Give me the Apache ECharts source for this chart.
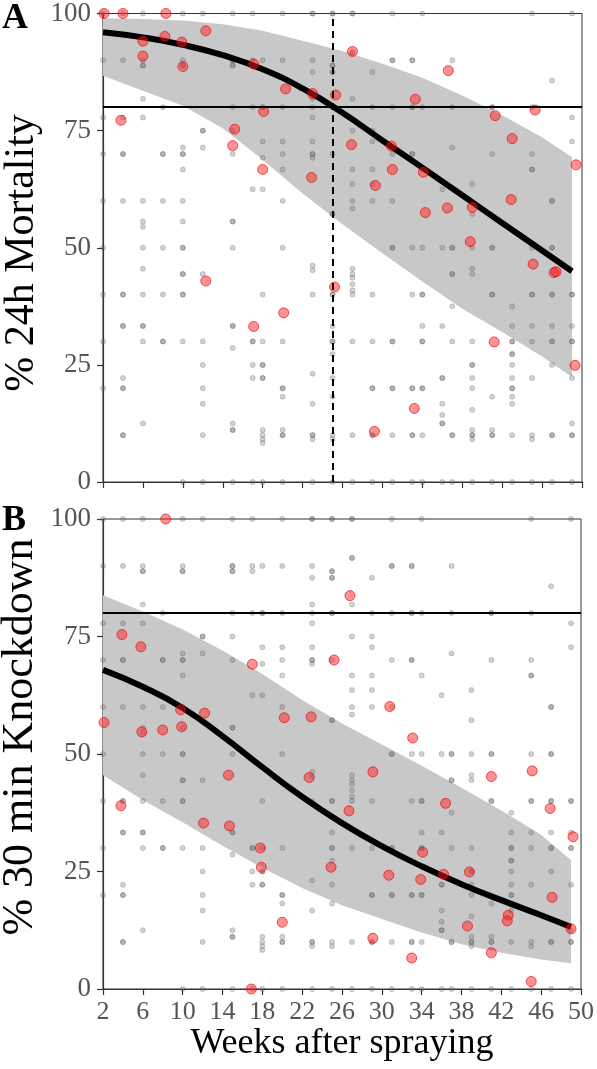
<!DOCTYPE html>
<html>
<head>
<meta charset="utf-8">
<script src="https://cdn.jsdelivr.net/npm/echarts@6/dist/echarts.min.js"></script>
<style>
  html, body { margin: 0; padding: 0; background: #fff; }
  #chart { width: 597px; height: 1069px; }
</style>
</head>
<body>
<div id="chart"></div>
<script>
// 灰色小点：按周排列的全部观测值
const grayWeeks = [2, 4, 6, 8, 10, 12, 15, 17, 18, 20, 23, 25, 27, 29, 31, 33, 34, 36, 37, 39, 41, 43, 45, 47, 49];
const grayValues = [
  [100, 90, 77.8, 70, 60, 50, 40, 30, 20],
  [100, 90, 77.8, 70, 70, 60, 40, 40, 33.3, 33.3, 22.2, 20, 20, 10, 10],
  [100, 90, 88.9, 88.9, 81.8, 77.8, 60, 55.6, 54.5, 50, 45.5, 40, 33.3, 33.3, 30, 12.5],
  [80, 70, 70, 60, 50, 40, 30, 30],
  [100, 90, 88.9, 88.9, 71.4, 70, 70, 66.7, 60, 55.6, 50, 50, 44.4, 44.4, 40, 40, 30, 0],
  [100, 75, 75, 71.4, 44.4, 30, 25, 20, 16.7, 10, 0],
  [100, 90, 90, 88.9, 88.9, 80, 75, 70, 55.6, 55.6, 50, 33.3, 33.3, 28.6, 12.5, 11.1, 11.1, 0],
  [100, 90, 88.9, 80, 62.5, 30, 30, 25, 22.2, 0],
  [90, 80, 80, 72.7, 69.2, 62.5, 40, 30, 25, 25, 22.2, 22.2, 11.1, 10, 9.1, 8.3, 0],
  [100, 90, 80, 72.7, 70, 66.7, 60, 50, 30, 20, 20, 18.2, 11.1, 10, 10, 0],
  [100, 100, 90, 87.5, 81.8, 80, 77.8, 72.7, 70, 70, 69.2, 46.2, 45.2, 40, 23.1, 16.7, 10, 10, 9.1, 0],
  [100, 100, 88.9, 88.9, 87.5, 87.5, 80, 80, 70, 57.2, 57.2, 40, 40, 33.3, 30, 30, 27.3, 22.2, 18.2, 10, 9.1, 0],
  [100, 100, 91.7, 91.7, 81.8, 75, 66.7, 63.6, 60, 58.4, 45.5, 44.4, 43.6, 42.2, 40.9, 40, 30, 10, 0],
  [87.5, 80, 75, 72.7, 66.7, 63.6, 60, 40, 30, 20, 20, 10, 10, 0],
  [100, 90, 90, 80, 70, 60, 50, 50, 30, 30, 20, 20, 10, 0],
  [90, 90, 80, 80, 70, 70, 50, 40, 20, 20, 10, 10, 0],
  [100, 80, 66.7, 50, 40, 40, 33.3, 30, 30, 20, 20, 10, 0],
  [62.5, 50, 33.3, 22.2, 22.2, 16.7, 14.3, 12.5, 12.5, 0],
  [90, 80, 71.4, 50, 50, 44.4, 44.4, 37.5, 30, 10, 10, 0],
  [63.6, 57.2, 50, 45.5, 44.4, 30, 25, 25, 22.2, 20, 15.4, 11.1, 10, 10, 9.1, 0],
  [80, 80, 70, 50, 50, 40, 40, 18.2, 11.1, 10, 10, 0],
  [37.5, 33.3, 30, 30, 27.3, 27.3, 25, 22.2, 20, 20, 18.2, 16.7, 10, 0],
  [100, 80, 70, 66.7, 66.7, 50, 40, 40, 33.3, 30, 22.2, 10, 9.1, 0],
  [85.7, 60, 60, 50, 50, 40, 40, 33.3, 30, 30, 25, 10, 10, 0],
  [100, 77.8, 72.7, 40, 40, 33.3, 30, 30, 22.2, 12.5, 10, 10, 0]
];

// 红色大点 A：24h 死亡率
const redAx = [2.1, 4, 8.3, 6, 6, 8.2, 9.9, 10, 12.3, 3.8, 17.1, 20.3, 18.1, 15.2, 15, 18, 23, 25.3, 27, 36.6, 33.3, 41.3, 45.3, 43, 49.4, 26.9, 30.9, 22.9, 31, 34.1, 29.3, 34.3, 36.5, 39, 42.9, 38.8, 45.1, 47.2, 47.4, 25.2, 41.2, 49.3, 33.2, 29.2, 12.3, 17.1, 20.1];
const redAy = [100, 100, 100, 94.1, 90.9, 95.1, 93.9, 88.7, 96.3, 77.2, 89.2, 83.9, 79.1, 75.3, 71.8, 66.7, 82.9, 82.6, 91.9, 87.8, 81.7, 78.2, 79.4, 73.3, 67.7, 72, 71.7, 65, 66.7, 66.1, 63.3, 57.5, 58.5, 58.6, 60.3, 51.3, 46.5, 44.7, 44.9, 41.6, 29.9, 24.9, 15.7, 10.8, 42.9, 33.2, 36.1];

// 红色大点 B：30min 击倒率
const redBx = [8.3, 3.9, 5.8, 2.1, 5.9, 8, 9.8, 9.9, 12.2, 17, 20.2, 14.6, 3.8, 12.1, 14.7, 17.8, 17.9, 20, 16.9, 26.8, 25.2, 22.9, 30.8, 33.1, 22.7, 29.1, 41, 45.1, 36.4, 26.7, 46.9, 49.2, 34.1, 24.9, 30.7, 33.9, 36.2, 38.8, 47.1, 42.7, 42.6, 38.6, 49, 29.1, 41, 33, 45];
const redBy = [100, 75.4, 72.8, 56.7, 54.7, 55.1, 59.4, 55.8, 58.7, 69.1, 57.7, 45.5, 39, 35.3, 34.7, 30, 25.9, 14.2, 0, 83.7, 70, 57.9, 60.1, 53.4, 45, 46.2, 45.2, 46.4, 39.5, 37.9, 38.4, 32.4, 29.1, 25.9, 24.2, 23.3, 24.4, 24.9, 19.5, 15.7, 14.5, 13.4, 12.8, 10.8, 7.7, 6.6, 1.6];

// 拟合曲线与置信带
const fitWeeks = [2, 6, 10, 14, 18, 22, 26, 30, 34, 38, 42, 46, 49];
const fitA = [96.0, 94.9, 93.3, 91.1, 88.1, 84.0, 78.8, 72.9, 67.1, 61.2, 55.3, 49.4, 45.0];
const bandAHigh = [99.0, 98.8, 98.5, 97.7, 96.3, 94.2, 92.0, 89.3, 86.3, 82.5, 78.3, 73.6, 69.3];
const bandALow = [86.7, 83.5, 80.3, 75.5, 68.8, 61.6, 55.0, 48.8, 42.8, 37.0, 32.0, 26.8, 22.4];
const fitB = [67.9, 64.3, 59.8, 53.8, 47.2, 40.9, 35.3, 30.4, 26.1, 22.3, 18.9, 15.7, 13.2];
const bandBHigh = [83.8, 80.3, 76.5, 72.0, 67.0, 61.5, 56.5, 52.0, 47.5, 42.8, 38.0, 32.8, 27.4];
const bandBLow = [45.5, 40.2, 35.5, 30.5, 25.8, 21.5, 17.8, 14.9, 12.0, 9.5, 7.7, 6.3, 5.5];

const yTicks = [0, 25, 50, 75, 100];
const threshold = 80;
const lt80Week = 25;

const chart = echarts.init(document.getElementById('chart'), null, { renderer: 'canvas' });

const serif = 'Liberation Serif';
const grayData = [];
grayWeeks.forEach((w, i) => grayValues[i].forEach(v => grayData.push([w, v])));
const zip = (xs, ys) => xs.map((x, i) => [x, ys[i]]);

function xAxisOf(gridIndex, showLabel) {
  return {
    type: 'value', gridIndex: gridIndex, min: 2, max: 50, interval: 4,
    axisLine: { show: true, onZero: false, lineStyle: { color: '#333', width: 1.2 } },
    axisTick: { show: true, length: 6, lineStyle: { color: '#333', width: 1.2 } },
    axisLabel: { show: showLabel, margin: 10, fontSize: 26, color: '#555', fontFamily: serif },
    splitLine: { show: false }
  };
}
function yAxisOf(gridIndex) {
  return {
    type: 'value', gridIndex: gridIndex, min: 0, max: 100, interval: 25,
    axisLine: { show: true, lineStyle: { color: '#333', width: 1.2 } },
    axisTick: { show: true, length: 6, lineStyle: { color: '#333', width: 1.2 } },
    axisLabel: { margin: 12, fontSize: 27, color: '#555', fontFamily: serif,
      formatter: v => (yTicks.indexOf(v) >= 0 ? String(v) : '') },
    splitLine: { show: false }
  };
}

// 置信带：上界正向、下界反向连成多边形
function bandSeries(idx, low, high) {
  return {
    type: 'custom', xAxisIndex: idx, yAxisIndex: idx, silent: true, z: 1,
    data: [[fitWeeks[0], low[0]]],
    renderItem: function (params, api) {
      const pts = [];
      fitWeeks.forEach((w, i) => pts.push(api.coord([w, high[i]])));
      for (let i = fitWeeks.length - 1; i >= 0; i--) pts.push(api.coord([fitWeeks[i], low[i]]));
      return { type: 'polygon', shape: { points: pts }, style: { fill: '#c8c8c8', stroke: null } };
    }
  };
}

// 面板系列：置信带、灰点、曲线、红点
function panelSeries(idx, low, high, fit, redX, redY, marks) {
  return [
    bandSeries(idx, low, high),
    {
      type: 'scatter', xAxisIndex: idx, yAxisIndex: idx, data: grayData,
      symbolSize: 5, clip: false,
      itemStyle: { color: 'rgba(110,110,110,0.38)', borderColor: 'rgba(80,80,80,0.4)', borderWidth: 0.8 },
      z: 2
    },
    {
      type: 'line', xAxisIndex: idx, yAxisIndex: idx, data: zip(fitWeeks, fit),
      symbol: 'none', smooth: 0.5, lineStyle: { color: '#000', width: 6 }, z: 3,
      markLine: { silent: true, symbol: 'none', label: { show: false }, data: marks }
    },
    {
      type: 'scatter', xAxisIndex: idx, yAxisIndex: idx, data: zip(redX, redY),
      symbolSize: 10, clip: false,
      itemStyle: { color: 'rgba(255,30,30,0.6)', borderColor: 'rgba(235,0,0,0.8)', borderWidth: 1 },
      z: 4
    }
  ];
}

const option = {
  animation: false,
  backgroundColor: '#fff',
  grid: [
    { left: 103, top: 12.5, width: 479, height: 469.5, show: true, borderColor: '#333', borderWidth: 1 },
    { left: 103, top: 519, width: 479, height: 470, show: true, borderColor: '#333', borderWidth: 1 }
  ],
  xAxis: [xAxisOf(0, false), xAxisOf(1, true)],
  yAxis: [yAxisOf(0), yAxisOf(1)],
  series: [].concat(
    panelSeries(0, bandALow, bandAHigh, fitA, redAx, redAy, [
      { yAxis: threshold, lineStyle: { color: '#000', width: 2, type: 'solid' } },
      { xAxis: lt80Week, lineStyle: { color: '#000', width: 2, type: [7, 5] } }
    ]),
    panelSeries(1, bandBLow, bandBHigh, fitB, redBx, redBy, [
      { yAxis: threshold, lineStyle: { color: '#000', width: 2, type: 'solid' } }
    ])
  ),
  graphic: [
    { type: 'text', left: 2, top: 1, style: { text: 'A', font: 'bold 36px "Liberation Serif"', fill: '#000' } },
    { type: 'text', left: 2, top: 503, style: { text: 'B', font: 'bold 36px "Liberation Serif"', fill: '#000' } },
    { type: 'text', x: 22, y: 253, rotation: Math.PI / 2,
      style: { text: '% 24h Mortality', font: '42px "Liberation Serif"', fill: '#000', align: 'center', verticalAlign: 'middle' } },
    { type: 'text', x: 20, y: 737, rotation: Math.PI / 2,
      style: { text: '% 30 min Knockdown', font: '44px "Liberation Serif"', fill: '#000', align: 'center', verticalAlign: 'middle' } },
    { type: 'text', x: 342, y: 1044,
      style: { text: 'Weeks after spraying', font: '36px "Liberation Serif"', fill: '#000', align: 'center', verticalAlign: 'middle' } }
  ]
};
chart.setOption(option);
</script>
</body>
</html>
